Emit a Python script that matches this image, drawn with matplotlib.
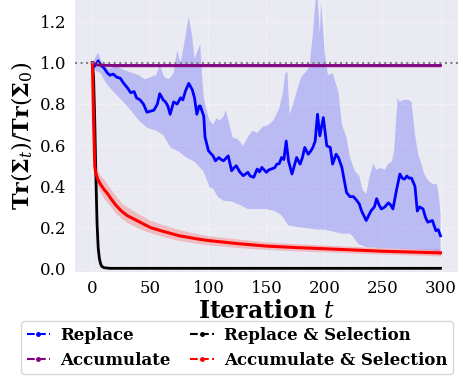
import numpy as np
import matplotlib
matplotlib.use("Agg")
import matplotlib.pyplot as plt
from matplotlib.lines import Line2D

plt.rcParams["font.family"] = "DejaVu Serif"
plt.rcParams["mathtext.fontset"] = "dejavuserif"

# Replace (mean + band)
t_rep = [0, 1, 3, 5, 7, 10, 13, 15, 18, 21, 24, 27, 30, 33, 36, 38, 41, 44, 47, 50,
         53, 56, 58, 61, 63, 65, 67, 70, 73, 76, 78, 80, 83, 86, 88, 90, 92, 93, 96, 97,
         100, 102, 104, 106, 109, 111, 113, 117, 120, 122, 124, 127, 130, 132, 134, 136, 139, 142, 144, 146,
         148, 150, 152, 154, 157, 159, 161, 163, 165, 167, 169, 172, 174, 176, 179, 181, 183, 186, 188, 190,
         192, 194, 196, 199, 202, 205, 207, 210, 212, 215, 219, 222, 225, 228, 230, 232, 236, 240, 243, 245,
         247, 249, 252, 255, 257, 259, 262, 265, 267, 269, 271, 273, 275, 278, 280, 282, 285, 287, 289, 291,
         293, 296, 298, 300]
rep_mean = [1.00, 0.98, 0.99, 1.01, 0.99, 0.975, 0.95, 0.94, 0.945, 0.93, 0.925, 0.90, 0.88, 0.855, 0.86, 0.83, 0.82, 0.80, 0.76, 0.765,
            0.77, 0.80, 0.85, 0.82, 0.81, 0.79, 0.75, 0.81, 0.80, 0.83, 0.82, 0.86, 0.90, 0.87, 0.83, 0.75, 0.79, 0.79, 0.74, 0.64,
            0.573, 0.56, 0.548, 0.524, 0.54, 0.53, 0.524, 0.548, 0.476, 0.49, 0.50, 0.47, 0.452, 0.46, 0.468, 0.45, 0.444, 0.484, 0.47, 0.492,
            0.48, 0.468, 0.48, 0.484, 0.49, 0.508, 0.51, 0.54, 0.53, 0.62, 0.524, 0.46, 0.50, 0.54, 0.508, 0.54, 0.589, 0.556, 0.57, 0.589,
            0.62, 0.75, 0.645, 0.734, 0.597, 0.589, 0.508, 0.556, 0.54, 0.492, 0.37, 0.35, 0.35, 0.33, 0.315, 0.28, 0.234, 0.28, 0.30, 0.34,
            0.31, 0.29, 0.30, 0.32, 0.31, 0.29, 0.38, 0.46, 0.44, 0.435, 0.45, 0.44, 0.44, 0.40, 0.28, 0.30, 0.29, 0.25, 0.226, 0.23,
            0.234, 0.185, 0.19, 0.16]

t_rep_hi = [0, 2, 5, 8, 10, 15, 20, 25, 30, 35, 40, 45, 50, 55, 58, 62, 66, 70, 73, 76,
            80, 83, 86, 88, 90, 93, 94, 96, 98, 101, 104, 107, 110, 113, 115, 118, 121, 125, 130, 134,
            138, 142, 147, 152, 156, 161, 164, 166, 168, 170, 173, 176, 180, 183, 187, 190, 193, 194, 196, 197,
            199, 200, 203, 207, 212, 215, 219, 222, 226, 230, 233, 236, 239, 242, 245, 248, 252, 255, 258, 260,
            263, 265, 268, 272, 275, 278, 281, 283, 286, 288, 291, 294, 297, 299, 300]
rep_hi = [1.00, 1.02, 1.05, 1.00, 0.98, 0.97, 0.99, 0.97, 0.96, 0.95, 0.94, 0.92, 0.93, 0.94, 0.99, 0.93, 0.92, 0.95, 1.06, 1.00,
          1.12, 1.225, 1.13, 1.02, 1.05, 1.09, 0.98, 0.83, 0.78, 0.72, 0.70, 0.73, 0.72, 0.74, 0.77, 0.70, 0.637, 0.63, 0.597, 0.64,
          0.67, 0.66, 0.69, 0.70, 0.72, 0.78, 0.85, 0.945, 0.96, 0.75, 0.80, 0.86, 0.93, 0.95, 0.98, 1.14, 1.35, 1.32, 1.14, 1.29,
          1.15, 1.06, 0.94, 0.95, 0.86, 0.70, 0.637, 0.54, 0.476, 0.45, 0.38, 0.363, 0.45, 0.51, 0.48, 0.49, 0.48, 0.51, 0.52, 0.57,
          0.83, 0.81, 0.82, 0.82, 0.81, 0.65, 0.55, 0.52, 0.46, 0.44, 0.42, 0.41, 0.41, 0.33, 0.27]

t_rep_lo = [0, 3, 7, 12, 18, 25, 33, 40, 47, 55, 61, 67, 74, 81, 88, 93, 96, 101, 104, 108,
            113, 120, 127, 134, 142, 150, 157, 163, 169, 180, 194, 200, 208, 215, 222, 225, 229, 236, 250, 265,
            280, 293, 298, 300]
rep_lo = [0.98, 0.96, 0.95, 0.90, 0.86, 0.82, 0.77, 0.72, 0.685, 0.67, 0.65, 0.59, 0.57, 0.54, 0.52, 0.49, 0.47, 0.395, 0.39, 0.35,
          0.33, 0.326, 0.31, 0.29, 0.29, 0.29, 0.28, 0.26, 0.21, 0.20, 0.19, 0.19, 0.18, 0.17, 0.17, 0.153, 0.12, 0.105, 0.10, 0.097,
          0.093, 0.089, 0.08, 0.056]

# Accumulate
t_acc = [0, 2, 5, 10, 20, 50, 100, 200, 300]
acc_mean = [1.0, 0.995, 0.99, 0.988, 0.987, 0.987, 0.987, 0.987, 0.987]
acc_lo = [1.0, 0.988, 0.982, 0.979, 0.978, 0.978, 0.978, 0.978, 0.978]
acc_hi = [1.0, 1.0, 0.997, 0.996, 0.995, 0.995, 0.995, 0.995, 0.995]

# Replace & Selection
t_rs = [0, 1, 2, 3, 4, 5, 6, 7, 8, 10, 15, 300]
rs_mean = [1.0, 0.93, 0.72, 0.45, 0.22, 0.10, 0.05, 0.025, 0.012, 0.005, 0.002, 0.002]

# Accumulate & Selection
t_as = [0, 1, 2, 3, 5, 7, 10, 13, 16, 20, 25, 30, 40, 50, 60, 75, 90, 100, 125, 150, 175, 200, 225, 250, 275, 300]
as_mean = [1.0, 0.72, 0.50, 0.46, 0.43, 0.41, 0.385, 0.365, 0.34, 0.31, 0.28, 0.258, 0.229, 0.20, 0.183, 0.16, 0.145, 0.137, 0.122, 0.11, 0.103, 0.097, 0.091, 0.085, 0.081, 0.077]
as_hi = [1.0, 0.75, 0.53, 0.49, 0.47, 0.45, 0.435, 0.41, 0.385, 0.355, 0.32, 0.30, 0.265, 0.235, 0.215, 0.19, 0.17, 0.16, 0.145, 0.13, 0.122, 0.115, 0.108, 0.102, 0.098, 0.095]
as_lo = [1.0, 0.69, 0.47, 0.43, 0.39, 0.37, 0.34, 0.32, 0.30, 0.27, 0.245, 0.225, 0.195, 0.175, 0.157, 0.137, 0.123, 0.116, 0.103, 0.094, 0.087, 0.082, 0.076, 0.071, 0.067, 0.062]

labels = ["Replace", "Accumulate", "Replace & Selection", "Accumulate & Selection"]
colors = ["blue", "purple", "black", "red"]

fig = plt.figure(figsize=(4.63, 3.77), dpi=100)
ax = fig.add_axes([0.162, 0.279, 0.827, 0.721])
ax.set_facecolor("#EAEAF2")
for s in ax.spines.values():
    s.set_visible(False)
ax.grid(True, color="white", linestyle="--", linewidth=0.7, alpha=0.45)
ax.set_axisbelow(True)
ax.tick_params(length=0, labelsize=12, pad=6)

# band: upper and lower edges have their own t samples, so fill the polygon
ax.fill(np.concatenate([t_rep_hi, t_rep_lo[::-1]]),
        np.concatenate([rep_hi, rep_lo[::-1]]), color="blue", alpha=0.2, lw=0)
ax.plot(t_rep, rep_mean, color="blue", lw=2)

ax.fill_between(t_acc, acc_lo, acc_hi, color="purple", alpha=0.25, lw=0)
ax.plot(t_acc, acc_mean, color="purple", lw=2)

ax.plot(t_rs, rs_mean, color="black", lw=2)

ax.fill_between(t_as, as_lo, as_hi, color="red", alpha=0.2, lw=0)
ax.plot(t_as, as_mean, color="red", lw=2.2)

ax.axhline(1.0, color="gray", linestyle=":", lw=1.5)

ax.set_xlim(-15, 315)
ax.set_ylim(-0.015, 1.305)
ax.set_xticks([0, 50, 100, 150, 200, 250, 300])
ax.set_yticks([0.0, 0.2, 0.4, 0.6, 0.8, 1.0, 1.2])
ax.set_xlabel(r"Iteration $t$", fontsize=17, fontweight="bold", labelpad=1)
ax.set_ylabel(r"$\mathbf{Tr}(\mathbf{\Sigma}_t)/\mathbf{Tr}(\mathbf{\Sigma}_0)$", fontsize=16, labelpad=4)

handles = [Line2D([], [], color=c, linestyle="--", marker=".", markersize=5, lw=1.5) for c in colors]
leg = fig.legend(handles, labels, loc="upper center", bbox_to_anchor=(0.512, 0.17), ncol=2,
                 prop={"weight": "bold", "size": 12}, handlelength=1.4, handletextpad=0.6,
                 columnspacing=1.2, labelspacing=0.45, borderpad=0.35, frameon=True, fancybox=True)
leg.get_frame().set_facecolor("white")
leg.get_frame().set_edgecolor("#cccccc")

fig.savefig("out.png", dpi=100)
